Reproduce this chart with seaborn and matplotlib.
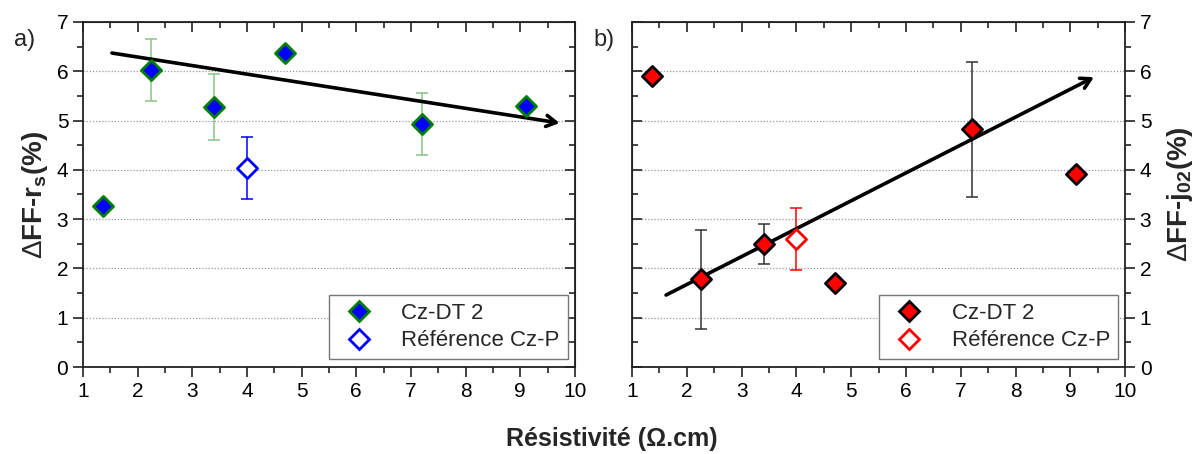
import matplotlib
matplotlib.use("Agg")
from matplotlib import pyplot as plt
from matplotlib.lines import Line2D
from matplotlib.ticker import MultipleLocator
import seaborn as sns
import pandas as pd

# valeurs
resist_dt = [1.37, 2.25, 3.4, 4.7, 7.2, 9.1]
ff_rs_dt = [3.27, 6.03, 5.27, 6.37, 4.93, 5.3]
ff_rs_err = [0.0, 0.63, 0.67, 0.05, 0.63, 0.0]
ff_j02_dt = [5.9, 1.78, 2.5, 1.7, 4.82, 3.92]
ff_j02_err = [0.0, 1.0, 0.4, 0.05, 1.37, 0.0]

resist_ref = [4.0]
ff_rs_ref = [4.03]
ff_rs_ref_err = [0.63]
ff_j02_ref = [2.6]
ff_j02_ref_err = [0.63]

# flèches de tendance (début, fin)
trend_rs = [(1.53, 6.37), (9.72, 4.95)]
trend_j02 = [(1.62, 1.46), (9.43, 5.88)]

sns.set_style("white")
plt.rcParams['font.family'] = ['Liberation Sans', 'DejaVu Sans']
plt.rcParams['mathtext.fontset'] = 'custom'
plt.rcParams['mathtext.rm'] = 'Liberation Sans'
plt.rcParams['mathtext.bf'] = 'Liberation Sans:bold'
plt.rcParams['mathtext.it'] = 'Liberation Sans:italic'

df_dt = pd.DataFrame({'r': resist_dt, 'rs': ff_rs_dt, 'j02': ff_j02_dt})
df_ref = pd.DataFrame({'r': resist_ref, 'rs': ff_rs_ref, 'j02': ff_j02_ref})

fig = plt.figure(figsize=(12.04, 4.54), dpi=100)
ax1 = fig.add_axes([0.0689, 0.1916, 0.4086, 0.760])
ax2 = fig.add_axes([0.525, 0.1916, 0.4095, 0.760])


def style_axis(ax, right=False):
    ax.set_xlim(1, 10)
    ax.set_ylim(0, 7)
    ax.xaxis.set_major_locator(MultipleLocator(1))
    ax.xaxis.set_minor_locator(MultipleLocator(0.5))
    ax.yaxis.set_major_locator(MultipleLocator(1))
    ax.yaxis.set_minor_locator(MultipleLocator(0.5))
    for s in ax.spines.values():
        s.set_color('#222222')
        s.set_linewidth(1.3)
    for y in range(1, 7):
        ax.axhline(y, color='#999999', lw=0.9, ls=(0, (1, 1.5)), zorder=0)
    ax.tick_params(which='both', direction='out', bottom=True, left=not right, right=right,
                   labelleft=not right, labelright=right, width=1.2, labelsize=15,
                   colors='#222222', labelcolor='black')
    ax.tick_params(which='major', length=7)
    ax.tick_params(which='minor', length=4)
    # graduations miroir vers l'intérieur
    sec_x = ax.secondary_xaxis('top')
    sec_x.xaxis.set_major_locator(MultipleLocator(1))
    sec_x.xaxis.set_minor_locator(MultipleLocator(0.5))
    sec_x.tick_params(which='both', direction='in', labeltop=False, width=1.2, colors='#222222')
    sec_x.tick_params(which='major', length=7)
    sec_x.tick_params(which='minor', length=4)
    sec_y = ax.secondary_yaxis('left' if right else 'right')
    sec_y.yaxis.set_major_locator(MultipleLocator(1))
    sec_y.yaxis.set_minor_locator(MultipleLocator(0.5))
    sec_y.tick_params(which='both', direction='in', labelleft=False, labelright=False,
                      width=1.2, colors='#222222')
    sec_y.tick_params(which='major', length=7)
    sec_y.tick_params(which='minor', length=4)


def draw_panel(ax, col, err, ref_err, face, edge, ecol_dt, ref_col, trend):
    ax.errorbar(df_dt['r'], df_dt[col], yerr=err, fmt='none', ecolor=ecol_dt,
                elinewidth=1.1, capsize=4, capthick=1.1, zorder=2)
    ax.errorbar(df_ref['r'], df_ref[col], yerr=ref_err, fmt='none', ecolor=ref_col,
                elinewidth=1.1, capsize=4, capthick=1.1, zorder=2)
    sns.scatterplot(data=df_dt, x='r', y=col, ax=ax, marker='D', s=105, color=face,
                    edgecolor=edge, linewidth=2, zorder=4, legend=False)
    sns.scatterplot(data=df_ref, x='r', y=col, ax=ax, marker='D', s=105, color='white',
                    edgecolor=ref_col, linewidth=2, zorder=4, legend=False)
    (x0, y0), (x1, y1) = trend
    ax.annotate('', xy=(x1, y1), xytext=(x0, y0),
                arrowprops=dict(arrowstyle='->,head_length=0.7,head_width=0.4', lw=2.6,
                                color='black', shrinkA=0, shrinkB=0),
                zorder=3)
    handles = [
        Line2D([], [], ls='none', marker='D', ms=10, mfc=face, mec=edge, mew=2),
        Line2D([], [], ls='none', marker='D', ms=10, mfc='white', mec=ref_col, mew=2),
    ]
    leg = ax.legend(handles, ['Cz-DT 2', 'Référence Cz-P'], loc='lower right',
                    bbox_to_anchor=(0.985, 0.023), borderaxespad=0, fontsize=16,
                    fancybox=False, edgecolor='#777777', framealpha=1,
                    handletextpad=0.9, borderpad=0.35, labelspacing=0.3)
    leg.get_frame().set_linewidth(1.0)
    ax.set_xlabel('')


draw_panel(ax1, 'rs', ff_rs_err, ff_rs_ref_err, 'blue', 'green', '#86c486', 'blue', trend_rs)
draw_panel(ax2, 'j02', ff_j02_err, ff_j02_ref_err, 'red', 'black', '#333333', 'red', trend_j02)

style_axis(ax1)
style_axis(ax2, right=True)

ax1.set_ylabel(r'$\Delta$FF-r$_\mathbf{s}$(%)', fontsize=20, fontweight='bold', labelpad=5)
ax2.set_ylabel(r'$\Delta$FF-j$_\mathbf{02}$(%)', fontsize=20, fontweight='bold', labelpad=10)
ax2.yaxis.set_label_position('right')

fig.text(0.012, 0.898, 'a)', fontsize=17)
fig.text(0.493, 0.898, 'b)', fontsize=17)
fig.text(0.508, 0.017, 'Résistivité (Ω.cm)', ha='center', fontsize=18, fontweight='bold')

fig.savefig('out.png', dpi=100)
